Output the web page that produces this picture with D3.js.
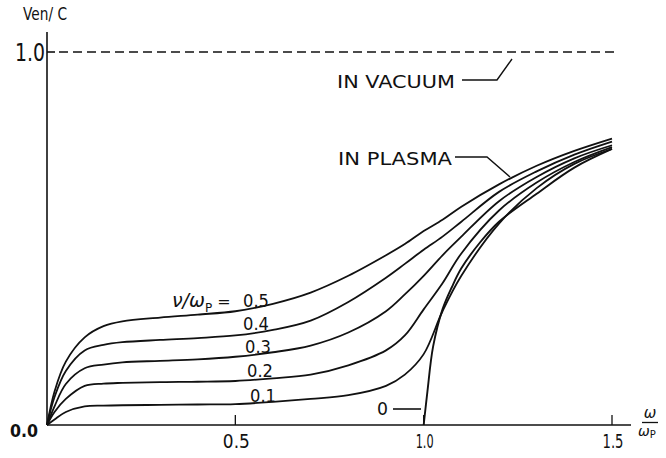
<!DOCTYPE html>
<html>
<head>
<meta charset="utf-8">
<script src="https://cdn.jsdelivr.net/npm/d3@7"></script>
<style>
  body { margin: 0; background: #fff; }
  text { font-family: "DejaVu Sans", sans-serif; fill: #111; }
</style>
</head>
<body>
<div id="chart"></div>
<script>
// frequency grid (omega / omega_p) shared by the collisional curves
var omega = [0, 0.02, 0.05, 0.1, 0.15, 0.2, 0.3, 0.4, 0.5, 0.6, 0.7, 0.8, 0.9, 0.95, 1.0, 1.05, 1.1, 1.2, 1.3, 1.4, 1.5];

// Ven/C for each nu/omega_p
var v05 = [0, 0.09, 0.17, 0.235, 0.265, 0.278, 0.288, 0.296, 0.305, 0.325, 0.355, 0.40, 0.455, 0.485, 0.52, 0.55, 0.585, 0.645, 0.695, 0.735, 0.768];
var v04 = [0, 0.075, 0.145, 0.2, 0.215, 0.222, 0.228, 0.233, 0.24, 0.255, 0.28, 0.33, 0.395, 0.432, 0.47, 0.505, 0.545, 0.625, 0.68, 0.725, 0.76];
var v03 = [0, 0.05, 0.11, 0.152, 0.162, 0.168, 0.172, 0.176, 0.183, 0.195, 0.213, 0.248, 0.305, 0.35, 0.40, 0.455, 0.505, 0.60, 0.665, 0.715, 0.75];
var v02 = [0, 0.035, 0.07, 0.105, 0.111, 0.113, 0.115, 0.116, 0.118, 0.125, 0.135, 0.16, 0.20, 0.24, 0.31, 0.38, 0.46, 0.575, 0.65, 0.705, 0.745];
var v01 = [0, 0.015, 0.035, 0.05, 0.052, 0.053, 0.054, 0.055, 0.056, 0.062, 0.07, 0.08, 0.105, 0.135, 0.19, 0.305, 0.40, 0.54, 0.635, 0.70, 0.74];

// collisionless curve starts at the cutoff
var omega0 = [1.0, 1.01, 1.025, 1.05, 1.075, 1.1, 1.15, 1.2, 1.3, 1.4, 1.5];
var v00 = [0, 0.09, 0.21, 0.31, 0.37, 0.42, 0.49, 0.545, 0.62, 0.69, 0.74];

var xTicks = [0.5, 1.0, 1.5];
var curveLabels = ["0.5", "0.4", "0.3", "0.2", "0.1"];

var W = 666, H = 458;
var svg = d3.select("#chart").append("svg")
  .attr("width", W)
  .attr("height", H);

var x = d3.scaleLinear().domain([0, 1.5]).range([47, 612]);
var y = d3.scaleLinear().domain([0, 1]).range([425, 52]);

// narrow lettering: squeeze text into a given width
function label(tx, ty, str, size, len) {
  var t = svg.append("text")
    .attr("x", tx).attr("y", ty)
    .style("font-size", size + "px")
    .text(str);
  if (len) t.attr("textLength", len).attr("lengthAdjust", "spacingAndGlyphs");
  return t;
}

// axes
svg.append("line")
  .attr("x1", x(0)).attr("x2", x(0))
  .attr("y1", y(0)).attr("y2", 32)
  .attr("stroke", "#111").attr("stroke-width", 1.6);
svg.append("line")
  .attr("x1", x(0)).attr("x2", 631)
  .attr("y1", y(0)).attr("y2", y(0))
  .attr("stroke", "#111").attr("stroke-width", 1.6);

// x ticks
svg.selectAll(".xt")
  .data(xTicks)
  .enter().append("line")
  .attr("x1", d => x(d)).attr("x2", d => x(d))
  .attr("y1", y(0)).attr("y2", y(0) - 10)
  .attr("stroke", "#111").attr("stroke-width", 1.3);
var tickW = [27, 18, 21];
xTicks.forEach(function(d, i) {
  label(x(d) + 1 - tickW[i] / 2, 448, d.toFixed(1), 20, tickW[i]);
});

// y labels
label(10, 437, "0.0", 17, 28).style("font-weight", "bold");
label(15, 61, "1.0", 24, 30);
label(23, 20, "Ven/ C", 18, 44);

// x-axis label as a fraction
var fx = 650;
svg.append("text").attr("x", fx).attr("y", 418).attr("text-anchor", "middle")
  .style("font-size", "15px").style("font-style", "italic").text("ω");
svg.append("line").attr("x1", fx - 8).attr("x2", fx + 8).attr("y1", 422.5).attr("y2", 422.5)
  .attr("stroke", "#111").attr("stroke-width", 1.3);
var den = svg.append("text").attr("x", 638).attr("y", 436)
  .style("font-size", "14px");
den.append("tspan").style("font-style", "italic").text("ω");
den.append("tspan").attr("dy", 2).style("font-size", "10px").text("P");

// vacuum line
svg.append("line")
  .attr("x1", x(0)).attr("x2", x(0) + 8)
  .attr("y1", y(1)).attr("y2", y(1))
  .attr("stroke", "#111").attr("stroke-width", 1.6);
svg.append("line")
  .attr("x1", x(0) + 12).attr("x2", x(1.51))
  .attr("y1", y(1)).attr("y2", y(1))
  .attr("stroke", "#111").attr("stroke-width", 1.5)
  .attr("stroke-dasharray", "9,5");

// curves
var line = d3.line()
  .x(d => x(d[0]))
  .y(d => y(d[1]))
  .curve(d3.curveCatmullRom.alpha(0.5));

var series = [v05, v04, v03, v02, v01];
series.forEach(function(vals) {
  svg.append("path")
    .datum(omega.map((o, i) => [o, vals[i]]))
    .attr("d", line)
    .attr("fill", "none")
    .attr("stroke", "#111")
    .attr("stroke-width", 1.8);
});
svg.append("path")
  .datum(omega0.map((o, i) => [o, v00[i]]))
  .attr("d", line)
  .attr("fill", "none")
  .attr("stroke", "#111")
  .attr("stroke-width", 1.9);

// curve labels
var nu = svg.append("text").attr("x", 172).attr("y", 307).style("font-size", "19px");
nu.append("tspan").style("font-style", "italic").text("ν/ω");
nu.append("tspan").attr("dy", 5).style("font-size", "12px").text("P");
nu.append("tspan").attr("dy", -5).attr("dx", 5).style("font-size", "16px").text("=");

var labPos = [[243, 307], [243, 330], [245, 353], [247, 377], [250, 402]];
curveLabels.forEach(function(t, i) {
  label(labPos[i][0], labPos[i][1], t, 18, 26);
});
label(377, 415, "0", 18, 11);
svg.append("line").attr("x1", 393).attr("x2", 421).attr("y1", 409).attr("y2", 409)
  .attr("stroke", "#111").attr("stroke-width", 1.6);

// annotations
label(337, 88, "IN  VACUUM", 18, 118);
svg.append("path")
  .attr("d", "M462,80 L497,80 L512,59")
  .attr("fill", "none").attr("stroke", "#111").attr("stroke-width", 1.4);

label(338, 165, "IN PLASMA", 18, 114);
svg.append("path")
  .attr("d", "M455,157 L487,157 L510,177")
  .attr("fill", "none").attr("stroke", "#111").attr("stroke-width", 1.4);
</script>
</body>
</html>
